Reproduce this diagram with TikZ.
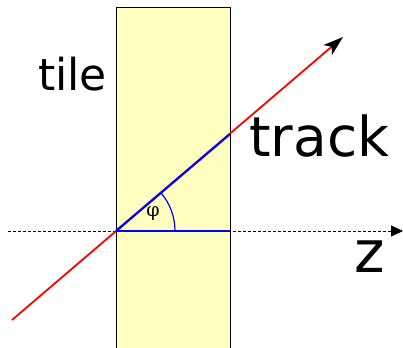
\documentclass[tikz,border=0pt]{standalone}
\usepackage{fontspec}
\setmainfont{DejaVu Sans}
\newfontfamily\phifont{DejaVu Serif}
\usetikzlibrary{arrows.meta}
\definecolor{tileyellow}{RGB}{255,255,192}
\begin{document}
\begin{tikzpicture}[x=1pt,y=-1pt,
  lbl/.style={inner sep=0pt,anchor=base west},
  trackline/.style={red,line width=1.8pt},
  projline/.style={blue,line width=2.2pt}]
\useasboundingbox (0,0) rectangle (403,347);
% tile
\filldraw[fill=tileyellow,draw=black,line width=0.9pt] (116,7) rectangle (230,350);
% coordinates
\coordinate (O) at (116,231);
\coordinate (zs) at (8,231);
\coordinate (ze) at (403,231);
\coordinate (ts) at (12,320);
\coordinate (te) at (343,37);
\coordinate (E) at (230,134);
\coordinate (H) at (230,231);
% z axis
\draw[dash pattern=on 3pt off 2pt,line width=0.9pt,-{Triangle[length=12pt,width=11pt]}] (zs) -- (ze);
% track
\draw[trackline,-{Stealth[length=20pt,width=13pt,inset=5pt,color=black]}] (ts) -- (te);
% projections
\draw[projline] (O) -- (H);
\draw[projline] (O) -- (E);
% angle arc
\draw[blue,line width=1.2pt] (O) ++(0:59) arc[start angle=0,end angle=-40.4,radius=59];
\node[inner sep=0pt] (phi) at (153,214) {\phifont\fontsize{19}{19}\selectfont φ};
% labels
\node[lbl] (tile) at (38,91) {\fontsize{44}{44}\selectfont tile};
\node[lbl] (track) at (249,157) {\fontsize{55}{55}\selectfont track};
\node[lbl] (z) at (354,272) {\fontsize{58}{58}\selectfont z};
\end{tikzpicture}
\end{document}
